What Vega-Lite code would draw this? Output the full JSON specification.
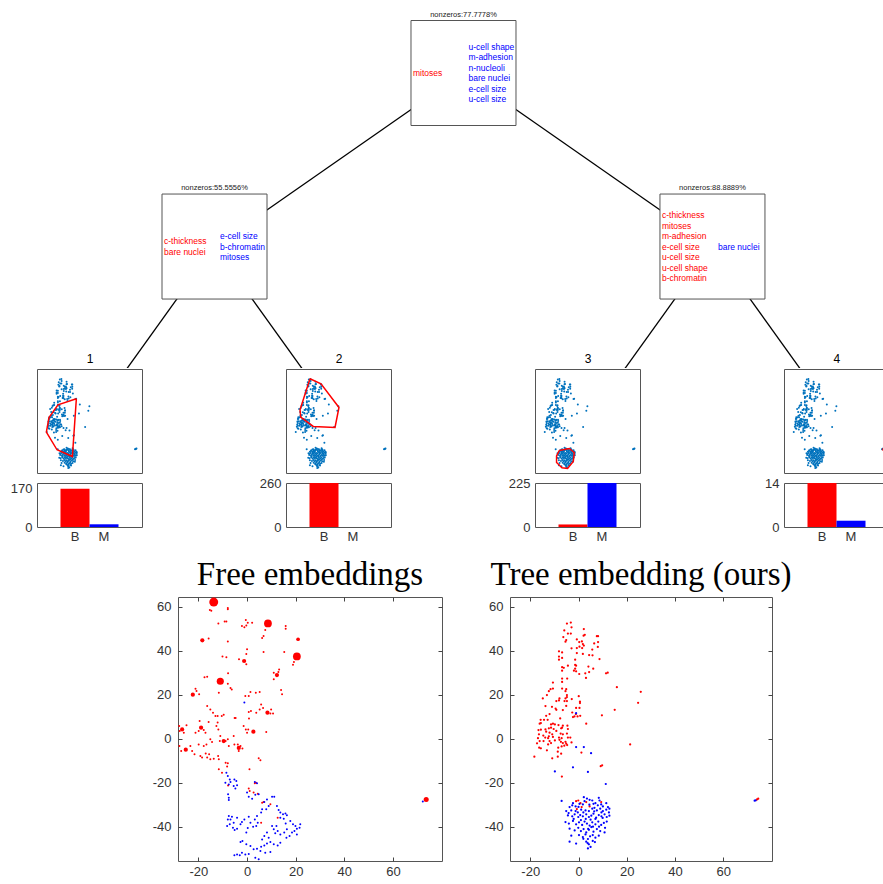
{
"$schema":"https://vega.github.io/schema/vega-lite/v6.json",
"padding":{"left":9,"top":0,"right":0,"bottom":0},
"config":{
 "font":"Liberation Sans",
 "view":{"stroke":"#555","strokeWidth":1},
 "axis":{"labelFont":"Liberation Sans","labelFontSize":13,"labelColor":"#333","grid":false,"ticks":false,"domain":false},
 "title":{"font":"Liberation Sans","fontWeight":"normal","color":"#000","fontSize":12}
},
"datasets":{
 "nodes":[
  {"id":"root","x":2.5,"depth":0,"label":"nonzeros:77.7778%","red":"mitoses","blue":"u-cell shape\nm-adhesion\nn-nucleoli\nbare nuclei\ne-cell size\nu-cell size"},
  {"id":"L","x":1.5,"depth":1,"label":"nonzeros:55.5556%","red":"c-thickness\nbare nuclei","blue":"e-cell size\nb-chromatin\nmitoses"},
  {"id":"R","x":3.5,"depth":1,"label":"nonzeros:88.8889%","red":"c-thickness\nmitoses\nm-adhesion\ne-cell size\nu-cell size\nu-cell shape\nb-chromatin","blue":"bare nuclei"}
 ],
 "leaves":[
  {"x":1,"depth":2,"name":"1"},{"x":2,"depth":2,"name":"2"},{"x":3,"depth":2,"name":"3"},{"x":4,"depth":2,"name":"4"}
 ],
 "edges":[
  {"x":2.5,"depth":0,"x2":1.5,"depth2":1},
  {"x":2.5,"depth":0,"x2":3.5,"depth2":1},
  {"x":1.5,"depth":1,"x2":1,"depth2":2},
  {"x":1.5,"depth":1,"x2":2,"depth2":2},
  {"x":3.5,"depth":1,"x2":3,"depth2":2},
  {"x":3.5,"depth":1,"x2":4,"depth2":2}
 ],
 "counts":[
  {"leaf":1,"cls":"B","n":170},{"leaf":1,"cls":"M","n":12},
  {"leaf":2,"cls":"B","n":260},{"leaf":2,"cls":"M","n":0},
  {"leaf":3,"cls":"B","n":13},{"leaf":3,"cls":"M","n":225},
  {"leaf":4,"cls":"B","n":14},{"leaf":4,"cls":"M","n":2}
 ],
 "hulls":[
  {"leaf":1,"i":0,"x":12.3,"y":30.0},{"leaf":1,"i":1,"x":-6.7,"y":23.1},{"leaf":1,"i":2,"x":-16.0,"y":8.4},{"leaf":1,"i":3,"x":-18.7,"y":-8.5},{"leaf":1,"i":4,"x":-7.7,"y":-28.8},{"leaf":1,"i":5,"x":8.2,"y":-36.6},{"leaf":1,"i":6,"x":12.3,"y":30.0},
  {"leaf":2,"i":0,"x":-3.6,"y":53.1},{"leaf":2,"i":1,"x":7.8,"y":47.3},{"leaf":2,"i":2,"x":26.4,"y":20.0},{"leaf":2,"i":3,"x":22.3,"y":-3.1},{"leaf":2,"i":4,"x":-0.2,"y":-1.9},{"leaf":2,"i":5,"x":-13.2,"y":8.8},{"leaf":2,"i":6,"x":-13.9,"y":17.3},{"leaf":2,"i":7,"x":-3.6,"y":53.1},
  {"leaf":3,"i":0,"x":-3.3,"y":-29.6},{"leaf":3,"i":1,"x":7.1,"y":-27.3},{"leaf":3,"i":2,"x":12.2,"y":-31.9},{"leaf":3,"i":3,"x":11.2,"y":-42.3},{"leaf":3,"i":4,"x":5.3,"y":-50.4},{"leaf":3,"i":5,"x":-0.5,"y":-49.6},{"leaf":3,"i":6,"x":-6.1,"y":-43.5},{"leaf":3,"i":7,"x":-6.1,"y":-35.8},{"leaf":3,"i":8,"x":-3.3,"y":-29.6},
  {"leaf":4,"i":0,"x":73.2,"y":-28.6},{"leaf":4,"i":1,"x":75.3,"y":-26.8},{"leaf":4,"i":2,"x":76.0,"y":-27.5},{"leaf":4,"i":3,"x":74.0,"y":-29.0},{"leaf":4,"i":4,"x":73.2,"y":-28.6}
 ],
 "tree":[
  {"x":-3.2,"y":52.8,"c":"B"},{"x":-4.8,"y":52.3,"c":"B"},{"x":-2.9,"y":50.6,"c":"B"},{"x":2.2,"y":49.8,"c":"B"},{"x":-5.9,"y":49.2,"c":"B"},{"x":-4.4,"y":47.8,"c":"B"},{"x":-3.2,"y":47.8,"c":"B"},{"x":2.6,"y":47.2,"c":"B"},{"x":2.1,"y":46.8,"c":"B"},{"x":7.6,"y":46.6,"c":"B"},{"x":8.1,"y":46.6,"c":"B"},{"x":-6.3,"y":46.2,"c":"B"},{"x":-0.7,"y":45.1,"c":"B"},{"x":-5.1,"y":44.8,"c":"B"},{"x":-5.4,"y":44.1,"c":"B"},{"x":1.4,"y":44.2,"c":"B"},{"x":0.3,"y":43.9,"c":"B"},{"x":1.8,"y":43.0,"c":"B"},{"x":8.1,"y":43.9,"c":"B"},{"x":6.5,"y":43.3,"c":"B"},{"x":2.2,"y":42.3,"c":"B"},{"x":0.4,"y":41.8,"c":"B"},{"x":-2.9,"y":41.1,"c":"B"},{"x":-0.7,"y":41.2,"c":"B"},{"x":1.5,"y":41.2,"c":"B"},{"x":8.0,"y":41.7,"c":"B"},{"x":5.7,"y":40.5,"c":"B"},{"x":-8.1,"y":39.7,"c":"B"},{"x":-0.7,"y":38.9,"c":"B"},{"x":1.8,"y":38.5,"c":"B"},{"x":-6.8,"y":39.2,"c":"B"},{"x":4.4,"y":38.0,"c":"B"},{"x":5.8,"y":37.9,"c":"B"},{"x":-8.1,"y":37.3,"c":"B"},{"x":-6.8,"y":36.7,"c":"B"},{"x":8.7,"y":36.2,"c":"B"},{"x":-8.1,"y":35.9,"c":"B"},{"x":-1.4,"y":35.9,"c":"B"},{"x":-4.4,"y":33.2,"c":"B"},{"x":-1.4,"y":33.5,"c":"B"},{"x":-1.0,"y":33.2,"c":"B"},{"x":-6.8,"y":32.5,"c":"B"},{"x":-6.1,"y":32.2,"c":"B"},{"x":4.1,"y":32.8,"c":"B"},{"x":6.1,"y":31.8,"c":"B"},{"x":-1.4,"y":31.8,"c":"B"},{"x":-1.9,"y":30.9,"c":"B"},{"x":-1.0,"y":30.6,"c":"B"},{"x":-6.8,"y":30.9,"c":"B"},{"x":2.8,"y":29.7,"c":"B"},{"x":4.4,"y":30.3,"c":"B"},{"x":11.4,"y":29.7,"c":"B"},{"x":12.1,"y":30.0,"c":"B"},{"x":0.3,"y":29.4,"c":"B"},{"x":3.1,"y":27.6,"c":"B"},{"x":-6.8,"y":27.3,"c":"B"},{"x":-4.7,"y":27.3,"c":"B"},{"x":-10.6,"y":25.5,"c":"B"},{"x":-6.8,"y":25.8,"c":"B"},{"x":-11.6,"y":22.5,"c":"B"},{"x":-12.3,"y":21.6,"c":"B"},{"x":-10.6,"y":22.8,"c":"B"},{"x":-6.8,"y":22.8,"c":"B"},{"x":-5.1,"y":22.5,"c":"B"},{"x":-5.4,"y":21.6,"c":"B"},{"x":-13.1,"y":19.8,"c":"B"},{"x":-4.8,"y":19.8,"c":"B"},{"x":-4.8,"y":18.9,"c":"B"},{"x":0.1,"y":19.3,"c":"B"},{"x":15.9,"y":23.4,"c":"B"},{"x":25.8,"y":21.3,"c":"B"},{"x":-14.8,"y":18.3,"c":"B"},{"x":-7.9,"y":18.3,"c":"B"},{"x":-8.1,"y":17.4,"c":"B"},{"x":-5.8,"y":17.1,"c":"B"},{"x":-4.8,"y":17.1,"c":"B"},{"x":-5.4,"y":18.3,"c":"B"},{"x":-2.8,"y":18.0,"c":"B"},{"x":0.6,"y":16.8,"c":"B"},{"x":0.6,"y":16.2,"c":"B"},{"x":-9.2,"y":17.1,"c":"B"},{"x":24.7,"y":16.3,"c":"B"},{"x":-11.0,"y":14.5,"c":"B"},{"x":-13.7,"y":14.8,"c":"B"},{"x":-5.1,"y":14.9,"c":"B"},{"x":-1.0,"y":14.0,"c":"B"},{"x":0.4,"y":14.0,"c":"B"},{"x":-9.2,"y":13.1,"c":"B"},{"x":-9.5,"y":13.7,"c":"B"},{"x":-6.5,"y":13.0,"c":"B"},{"x":15.0,"y":13.1,"c":"B"},{"x":-12.0,"y":11.2,"c":"B"},{"x":-2.6,"y":11.9,"c":"B"},{"x":-1.1,"y":11.2,"c":"B"},{"x":9.7,"y":10.6,"c":"B"},{"x":-2.3,"y":9.8,"c":"B"},{"x":-1.7,"y":10.1,"c":"B"},{"x":-0.4,"y":10.1,"c":"B"},{"x":0.7,"y":10.4,"c":"B"},{"x":-13.4,"y":10.4,"c":"B"},{"x":-15.7,"y":8.6,"c":"B"},{"x":-14.3,"y":8.6,"c":"B"},{"x":-12.8,"y":8.6,"c":"B"},{"x":-7.6,"y":9.2,"c":"B"},{"x":-11.4,"y":6.5,"c":"B"},{"x":-10.6,"y":6.8,"c":"B"},{"x":-9.8,"y":6.5,"c":"B"},{"x":-15.6,"y":7.1,"c":"B"},{"x":-16.1,"y":6.8,"c":"B"},{"x":-8.3,"y":6.2,"c":"B"},{"x":-6.5,"y":5.9,"c":"B"},{"x":-4.6,"y":5.9,"c":"B"},{"x":3.2,"y":6.8,"c":"B"},{"x":-12.3,"y":4.7,"c":"B"},{"x":-11.4,"y":5.0,"c":"B"},{"x":-10.3,"y":4.4,"c":"B"},{"x":-7.2,"y":4.7,"c":"B"},{"x":-6.8,"y":5.0,"c":"B"},{"x":-4.4,"y":4.4,"c":"B"},{"x":-16.6,"y":3.9,"c":"B"},{"x":-15.6,"y":4.1,"c":"B"},{"x":-13.7,"y":4.2,"c":"B"},{"x":-9.2,"y":3.5,"c":"B"},{"x":-13.4,"y":3.2,"c":"B"},{"x":-12.0,"y":2.7,"c":"B"},{"x":-10.9,"y":2.0,"c":"B"},{"x":-7.4,"y":2.3,"c":"B"},{"x":-6.5,"y":2.0,"c":"B"},{"x":-4.8,"y":2.3,"c":"B"},{"x":-16.4,"y":2.0,"c":"B"},{"x":-14.6,"y":1.4,"c":"B"},{"x":-13.8,"y":0.5,"c":"B"},{"x":-12.3,"y":1.1,"c":"B"},{"x":-12.6,"y":0.2,"c":"B"},{"x":-10.6,"y":0.8,"c":"B"},{"x":-8.1,"y":0.5,"c":"B"},{"x":-7.0,"y":0.2,"c":"B"},{"x":-4.4,"y":0.5,"c":"B"},{"x":-3.4,"y":0.5,"c":"B"},{"x":-16.8,"y":0.2,"c":"B"},{"x":-16.1,"y":-1.1,"c":"B"},{"x":-14.5,"y":-1.1,"c":"B"},{"x":-12.0,"y":-1.1,"c":"B"},{"x":-11.4,"y":-2.0,"c":"B"},{"x":-9.8,"y":-0.8,"c":"B"},{"x":-7.9,"y":-0.5,"c":"B"},{"x":-7.3,"y":-1.4,"c":"B"},{"x":-6.5,"y":-2.0,"c":"B"},{"x":-5.4,"y":-1.4,"c":"B"},{"x":-5.1,"y":-2.3,"c":"B"},{"x":-2.9,"y":-1.7,"c":"B"},{"x":-17.2,"y":-2.1,"c":"B"},{"x":-12.6,"y":-2.6,"c":"B"},{"x":21.4,"y":-2.6,"c":"B"},{"x":-16.3,"y":-4.1,"c":"B"},{"x":-15.6,"y":-4.4,"c":"B"},{"x":-8.4,"y":-4.1,"c":"B"},{"x":-7.0,"y":-3.5,"c":"B"},{"x":-5.9,"y":-3.2,"c":"B"},{"x":-4.7,"y":-2.9,"c":"B"},{"x":-13.1,"y":-5.3,"c":"B"},{"x":-8.6,"y":-5.9,"c":"B"},{"x":1.2,"y":-6.3,"c":"B"},{"x":-18.3,"y":-8.2,"c":"B"},{"x":-10.9,"y":-8.9,"c":"B"},{"x":-8.6,"y":-8.2,"c":"B"},{"x":-7.2,"y":-6.8,"c":"B"},{"x":9.8,"y":-12.1,"c":"B"},{"x":9.2,"y":-12.5,"c":"B"},{"x":-6.9,"y":-17.2,"c":"B"},
  {"x":-1.0,"y":-28.4,"c":"B"},{"x":-0.1,"y":-28.1,"c":"B"},{"x":0.8,"y":-29.3,"c":"B"},{"x":3.2,"y":-28.8,"c":"B"},{"x":4.6,"y":-30.8,"c":"B"},{"x":1.3,"y":-31.1,"c":"B"},{"x":-0.7,"y":-32.0,"c":"B"},{"x":9.4,"y":-28.8,"c":"B"},
  {"x":-1.0,"y":11.6,"c":"M"},{"x":-1.0,"y":-3.8,"c":"M"},{"x":2.2,"y":-3.8,"c":"M"},{"x":5.2,"y":-6.6,"c":"M"},{"x":-2.3,"y":-13.0,"c":"M"},{"x":-9.8,"y":-14.9,"c":"M"},{"x":3.9,"y":-15.1,"c":"M"},{"x":11.3,"y":-20.6,"c":"M"},{"x":-7.0,"y":-28.3,"c":"M"},
  {"x":2.2,"y":-26.6,"c":"M"},{"x":3.5,"y":-27.2,"c":"M"},{"x":4.6,"y":-27.8,"c":"M"},{"x":5.7,"y":-28.1,"c":"M"},{"x":8.4,"y":-26.9,"c":"M"},{"x":8.7,"y":-28.1,"c":"M"},{"x":2.5,"y":-28.4,"c":"M"},{"x":-2.3,"y":-29.3,"c":"M"},
  {"x":0.4,"y":-29.6,"c":"M"},{"x":1.8,"y":-29.9,"c":"M"},{"x":6.2,"y":-29.6,"c":"M"},{"x":7.0,"y":-29.3,"c":"M"},{"x":8.0,"y":-30.3,"c":"M"},{"x":9.4,"y":-29.9,"c":"M"},{"x":10.1,"y":-30.8,"c":"M"},{"x":11.5,"y":-29.3,"c":"M"},{"x":12.2,"y":-31.1,"c":"M"},{"x":-1.2,"y":-30.8,"c":"M"},{"x":-2.6,"y":-30.3,"c":"M"},{"x":-3.7,"y":-31.1,"c":"M"},
  {"x":-5.1,"y":-32.9,"c":"M"},{"x":-4.1,"y":-33.8,"c":"M"},{"x":-3.0,"y":-32.6,"c":"M"},{"x":-1.2,"y":-32.9,"c":"M"},{"x":-0.3,"y":-33.5,"c":"M"},{"x":1.1,"y":-32.3,"c":"M"},{"x":2.9,"y":-32.6,"c":"M"},{"x":4.3,"y":-32.9,"c":"M"},{"x":5.7,"y":-31.8,"c":"M"},{"x":6.6,"y":-31.4,"c":"M"},{"x":7.6,"y":-32.6,"c":"M"},{"x":9.0,"y":-31.8,"c":"M"},{"x":10.1,"y":-32.9,"c":"M"},{"x":11.5,"y":-32.3,"c":"M"},{"x":12.6,"y":-33.5,"c":"M"},{"x":12.8,"y":-31.8,"c":"M"},
  {"x":-4.4,"y":-34.9,"c":"M"},{"x":-2.6,"y":-35.3,"c":"M"},{"x":-1.6,"y":-34.4,"c":"M"},{"x":-0.1,"y":-35.6,"c":"M"},{"x":0.7,"y":-34.7,"c":"M"},{"x":1.8,"y":-35.3,"c":"M"},{"x":3.2,"y":-34.4,"c":"M"},{"x":4.3,"y":-35.6,"c":"M"},{"x":5.3,"y":-35.0,"c":"M"},{"x":6.2,"y":-34.1,"c":"M"},{"x":7.3,"y":-35.9,"c":"M"},{"x":8.4,"y":-34.7,"c":"M"},{"x":9.5,"y":-35.3,"c":"M"},{"x":10.8,"y":-34.4,"c":"M"},{"x":11.7,"y":-35.6,"c":"M"},{"x":12.8,"y":-35.0,"c":"M"},
  {"x":-5.4,"y":-37.9,"c":"M"},{"x":-4.0,"y":-38.6,"c":"M"},{"x":-2.3,"y":-37.4,"c":"M"},{"x":-1.0,"y":-38.9,"c":"M"},{"x":0.2,"y":-38.0,"c":"M"},{"x":1.5,"y":-39.2,"c":"M"},{"x":2.5,"y":-37.7,"c":"M"},{"x":3.5,"y":-38.6,"c":"M"},{"x":4.6,"y":-39.5,"c":"M"},{"x":5.7,"y":-38.0,"c":"M"},{"x":7.0,"y":-38.9,"c":"M"},{"x":8.2,"y":-37.7,"c":"M"},{"x":9.4,"y":-39.2,"c":"M"},{"x":10.5,"y":-38.3,"c":"M"},{"x":11.7,"y":-37.7,"c":"M"},
  {"x":-3.7,"y":-40.9,"c":"M"},{"x":-1.6,"y":-41.7,"c":"M"},{"x":-0.1,"y":-40.5,"c":"M"},{"x":1.0,"y":-42.0,"c":"M"},{"x":2.1,"y":-41.1,"c":"M"},{"x":3.2,"y":-42.6,"c":"M"},{"x":4.3,"y":-41.4,"c":"M"},{"x":5.3,"y":-40.2,"c":"M"},{"x":6.2,"y":-42.3,"c":"M"},{"x":7.6,"y":-41.1,"c":"M"},{"x":9.0,"y":-42.0,"c":"M"},{"x":10.8,"y":-42.6,"c":"M"},
  {"x":-3.0,"y":-44.1,"c":"M"},{"x":0.2,"y":-43.8,"c":"M"},{"x":1.8,"y":-44.7,"c":"M"},{"x":2.9,"y":-43.5,"c":"M"},{"x":3.9,"y":-45.6,"c":"M"},{"x":4.8,"y":-44.4,"c":"M"},{"x":5.9,"y":-43.8,"c":"M"},{"x":7.0,"y":-45.0,"c":"M"},{"x":8.4,"y":-44.1,"c":"M"},
  {"x":-3.7,"y":-46.8,"c":"M"},{"x":-1.0,"y":-47.7,"c":"M"},{"x":3.2,"y":-46.8,"c":"M"},{"x":4.3,"y":-48.0,"c":"M"},{"x":5.0,"y":-49.2,"c":"M"},{"x":3.9,"y":-49.9,"c":"M"},{"x":5.9,"y":-46.5,"c":"M"},
  {"x":3.0,"y":-36.5,"c":"M"},{"x":5.0,"y":-36.8,"c":"M"},{"x":7.0,"y":-36.5,"c":"M"},{"x":1.0,"y":-37.0,"c":"M"},{"x":6.0,"y":-40.0,"c":"M"},{"x":4.0,"y":-41.0,"c":"M"},{"x":8.5,"y":-40.0,"c":"M"},{"x":10.0,"y":-36.0,"c":"M"},{"x":2.0,"y":-33.5,"c":"M"},{"x":6.5,"y":-33.0,"c":"M"},{"x":4.5,"y":-30.0,"c":"M"},{"x":9.5,"y":-33.5,"c":"M"},{"x":0.0,"y":-31.0,"c":"M"},{"x":-2.0,"y":-36.5,"c":"M"},{"x":11.0,"y":-40.5,"c":"M"},{"x":3.8,"y":-47.5,"c":"M"},{"x":2.0,"y":-45.5,"c":"M"},{"x":6.8,"y":-47.0,"c":"M"},
  {"x":73.0,"y":-28.2,"c":"M"},{"x":73.5,"y":-28.0,"c":"M"},{"x":74.5,"y":-27.3,"c":"B"},{"x":74.0,"y":-27.6,"c":"B"}
 ],
 "free":[
  {"x":-15.3,"y":58.5,"c":"B","n":1},{"x":-14.7,"y":58.2,"c":"B","n":1},{"x":-7.9,"y":59.4,"c":"B","n":1},{"x":-7.9,"y":58.8,"c":"B","n":1},{"x":-11.8,"y":52.4,"c":"B","n":1},{"x":-9.2,"y":53.3,"c":"B","n":1},{"x":-8.5,"y":53.3,"c":"B","n":1},{"x":-2.1,"y":51.2,"c":"B","n":1},{"x":-1.1,"y":50.6,"c":"B","n":1},{"x":-0.3,"y":51.5,"c":"B","n":1},{"x":-0.5,"y":53.9,"c":"B","n":1},{"x":0.3,"y":52.7,"c":"B","n":1},{"x":2.1,"y":52.7,"c":"B","n":1},{"x":7.5,"y":49.4,"c":"B","n":1},{"x":6.8,"y":46.7,"c":"B","n":1},{"x":6.2,"y":45.8,"c":"B","n":1},{"x":15.9,"y":51.2,"c":"B","n":1},{"x":15.9,"y":50.0,"c":"B","n":1},{"x":-15.8,"y":45.5,"c":"B","n":1},{"x":-7.9,"y":44.2,"c":"B","n":1},{"x":-10.1,"y":37.3,"c":"B","n":1},{"x":-8.5,"y":37.0,"c":"B","n":1},{"x":0.0,"y":40.6,"c":"B","n":1},{"x":-0.3,"y":38.5,"c":"B","n":1},{"x":6.8,"y":39.4,"c":"B","n":1},{"x":15.3,"y":39.4,"c":"B","n":1},{"x":-3.3,"y":36.1,"c":"B","n":1},{"x":-0.3,"y":33.8,"c":"B","n":1},{"x":18.9,"y":33.6,"c":"B","n":1},{"x":19.3,"y":34.8,"c":"B","n":1},{"x":-7.8,"y":29.7,"c":"B","n":1},{"x":11.0,"y":30.0,"c":"B","n":1},{"x":13.2,"y":31.5,"c":"B","n":1},{"x":12.9,"y":30.3,"c":"B","n":1},{"x":11.0,"y":27.0,"c":"B","n":1},{"x":-17.5,"y":27.9,"c":"B","n":1},{"x":-16.4,"y":28.2,"c":"B","n":1},{"x":-7.9,"y":25.0,"c":"B","n":1},{"x":-6.8,"y":23.0,"c":"B","n":1},{"x":-6.3,"y":22.4,"c":"B","n":1},{"x":-11.6,"y":20.9,"c":"B","n":1},{"x":-21.2,"y":22.7,"c":"B","n":1},{"x":-20.8,"y":21.7,"c":"B","n":1},{"x":-19.7,"y":20.2,"c":"B","n":1},{"x":14.0,"y":22.1,"c":"B","n":1},{"x":14.4,"y":20.2,"c":"B","n":1},{"x":1.4,"y":21.2,"c":"B","n":1},{"x":-0.7,"y":19.4,"c":"B","n":1},{"x":0.7,"y":19.4,"c":"B","n":1},{"x":3.6,"y":20.9,"c":"B","n":1},{"x":5.2,"y":21.2,"c":"B","n":1},{"x":5.8,"y":15.5,"c":"B","n":1},{"x":6.6,"y":13.9,"c":"B","n":1},{"x":5.2,"y":13.3,"c":"B","n":1},{"x":3.8,"y":11.8,"c":"B","n":1},{"x":0.7,"y":12.1,"c":"B","n":1},{"x":1.6,"y":12.6,"c":"B","n":1},{"x":9.9,"y":13.3,"c":"B","n":1},{"x":9.6,"y":11.5,"c":"B","n":1},{"x":10.7,"y":11.5,"c":"B","n":1},{"x":-16.4,"y":14.8,"c":"B","n":1},{"x":-15.1,"y":13.3,"c":"B","n":1},{"x":-14.0,"y":11.8,"c":"B","n":1},{"x":-13.0,"y":10.3,"c":"B","n":1},{"x":-12.1,"y":10.3,"c":"B","n":1},{"x":-10.4,"y":10.3,"c":"B","n":1},{"x":-9.6,"y":10.9,"c":"B","n":1},{"x":-5.1,"y":9.4,"c":"B","n":1},{"x":-4.7,"y":9.4,"c":"B","n":1},{"x":0.8,"y":9.2,"c":"B","n":1},{"x":-19.5,"y":8.0,"c":"B","n":1},{"x":-15.8,"y":7.6,"c":"B","n":1},{"x":-12.1,"y":7.3,"c":"B","n":1},{"x":-12.6,"y":5.8,"c":"B","n":1},{"x":-11.8,"y":4.2,"c":"B","n":1},{"x":-1.4,"y":5.8,"c":"B","n":1},{"x":-0.5,"y":4.2,"c":"B","n":1},{"x":0.5,"y":4.2,"c":"B","n":1},{"x":0.0,"y":2.7,"c":"B","n":1},{"x":7.9,"y":3.0,"c":"B","n":1},{"x":-27.9,"y":5.8,"c":"B","n":1},{"x":-27.7,"y":3.5,"c":"B","n":1},{"x":-24.9,"y":6.1,"c":"B","n":1},{"x":-26.0,"y":2.7,"c":"B","n":1},{"x":-21.2,"y":2.7,"c":"B","n":1},{"x":-19.9,"y":3.5,"c":"B","n":1},{"x":-17.8,"y":3.9,"c":"B","n":1},{"x":-17.1,"y":2.7,"c":"B","n":1},{"x":-11.0,"y":1.2,"c":"B","n":1},{"x":-11.2,"y":-1.1,"c":"B","n":1},{"x":-8.8,"y":-1.1,"c":"B","n":1},{"x":-7.9,"y":-0.3,"c":"B","n":1},{"x":-7.5,"y":-3.3,"c":"B","n":1},{"x":-5.5,"y":1.2,"c":"B","n":1},{"x":-5.2,"y":-2.6,"c":"B","n":1},{"x":-3.8,"y":-2.6,"c":"B","n":1},{"x":-2.7,"y":-3.3,"c":"B","n":1},{"x":-1.9,"y":-4.5,"c":"B","n":1},{"x":-3.4,"y":-5.6,"c":"B","n":1},{"x":-15.1,"y":-0.3,"c":"B","n":1},{"x":-14.4,"y":-1.5,"c":"B","n":1},{"x":-16.7,"y":-2.6,"c":"B","n":1},{"x":-17.8,"y":-3.3,"c":"B","n":1},{"x":-19.9,"y":-2.6,"c":"B","n":1},{"x":-23.3,"y":-3.3,"c":"B","n":1},{"x":-22.6,"y":-5.6,"c":"B","n":1},{"x":-21.6,"y":-7.1,"c":"B","n":1},{"x":-19.2,"y":-7.9,"c":"B","n":1},{"x":-18.5,"y":-8.6,"c":"B","n":1},{"x":-16.4,"y":-8.6,"c":"B","n":1},{"x":-15.1,"y":-9.4,"c":"B","n":1},{"x":-13.7,"y":-9.1,"c":"B","n":1},{"x":-17.0,"y":-6.7,"c":"B","n":1},{"x":-15.6,"y":-7.1,"c":"B","n":1},{"x":-11.9,"y":-7.9,"c":"B","n":1},{"x":-11.6,"y":-9.4,"c":"B","n":1},{"x":-27.8,"y":-3.3,"c":"B","n":1},{"x":-27.1,"y":-5.6,"c":"B","n":1},{"x":4.8,"y":-8.9,"c":"B","n":1},{"x":5.5,"y":-9.8,"c":"B","n":1},{"x":-8.8,"y":-10.9,"c":"B","n":1},{"x":-7.9,"y":-11.2,"c":"B","n":1},{"x":-8.2,"y":-12.7,"c":"B","n":1},{"x":-11.6,"y":-13.9,"c":"B","n":1},{"x":1.0,"y":-13.9,"c":"B","n":1},{"x":-10.3,"y":-15.5,"c":"B","n":1},{"x":3.7,"y":-20.0,"c":"B","n":1},{"x":3.2,"y":-20.3,"c":"B","n":1},{"x":0.7,"y":-22.7,"c":"B","n":1},{"x":1.1,"y":-23.8,"c":"B","n":1},{"x":2.7,"y":-24.5,"c":"B","n":1},{"x":4.4,"y":-25.0,"c":"B","n":1},{"x":6.2,"y":-29.1,"c":"B","n":1},{"x":6.8,"y":-28.8,"c":"B","n":1},{"x":9.6,"y":-29.8,"c":"B","n":1},{"x":12.6,"y":-35.9,"c":"B","n":1},{"x":5.8,"y":-38.2,"c":"B","n":1},{"x":-7.8,"y":-21.3,"c":"B","n":1},
  {"x":-13.7,"y":62.1,"c":"B","n":40},{"x":8.6,"y":52.4,"c":"B","n":30},{"x":20.5,"y":37.4,"c":"B","n":30},{"x":-11.0,"y":26.1,"c":"B","n":25},{"x":-18.4,"y":44.7,"c":"B","n":8},{"x":-22.3,"y":20.0,"c":"B","n":8},{"x":-1.2,"y":35.3,"c":"B","n":8},{"x":12.3,"y":28.9,"c":"B","n":8},{"x":8.4,"y":11.8,"c":"B","n":8},{"x":2.6,"y":3.2,"c":"B","n":8},{"x":-18.9,"y":5.0,"c":"B","n":8},{"x":-26.7,"y":4.2,"c":"B","n":8},{"x":-25.2,"y":-5.0,"c":"B","n":8},{"x":-9.6,"y":-1.1,"c":"B","n":8},{"x":-3.4,"y":-4.2,"c":"B","n":8},{"x":21.0,"y":45.2,"c":"B","n":6},
  {"x":-1.1,"y":16.4,"c":"M","n":1},
  {"x":-8.5,"y":-15.5,"c":"M","n":1},{"x":-7.9,"y":-17.0,"c":"M","n":1},{"x":-7.1,"y":-18.5,"c":"M","n":1},{"x":-6.8,"y":-19.7,"c":"M","n":1},{"x":-7.5,"y":-20.8,"c":"M","n":1},{"x":-8.9,"y":-20.0,"c":"M","n":1},{"x":-5.2,"y":-18.5,"c":"M","n":1},{"x":-4.4,"y":-19.2,"c":"M","n":1},{"x":-4.1,"y":-21.2,"c":"M","n":1},{"x":-4.8,"y":-22.7,"c":"M","n":1},{"x":-5.5,"y":-21.5,"c":"M","n":1},{"x":-7.8,"y":-25.3,"c":"M","n":1},{"x":-7.5,"y":-26.8,"c":"M","n":1},{"x":-7.5,"y":-27.9,"c":"M","n":1},{"x":3.2,"y":-19.7,"c":"M","n":1},{"x":4.1,"y":-20.3,"c":"M","n":1},{"x":0.0,"y":-24.5,"c":"M","n":1},{"x":0.7,"y":-26.4,"c":"M","n":1},{"x":2.1,"y":-27.3,"c":"M","n":1},{"x":3.4,"y":-25.5,"c":"M","n":1},{"x":4.8,"y":-25.3,"c":"M","n":1},{"x":7.1,"y":-28.8,"c":"M","n":1},{"x":8.2,"y":-27.6,"c":"M","n":1},{"x":10.3,"y":-26.4,"c":"M","n":1},{"x":11.2,"y":-26.4,"c":"M","n":1},{"x":8.9,"y":-30.6,"c":"M","n":1},{"x":7.9,"y":-32.1,"c":"M","n":1},{"x":6.2,"y":-32.1,"c":"M","n":1},{"x":5.8,"y":-33.6,"c":"M","n":1},{"x":12.3,"y":-30.6,"c":"M","n":1},{"x":13.0,"y":-32.4,"c":"M","n":1},{"x":13.7,"y":-33.6,"c":"M","n":1},{"x":14.8,"y":-34.4,"c":"M","n":1},{"x":15.8,"y":-34.0,"c":"M","n":1},{"x":16.4,"y":-34.8,"c":"M","n":1},{"x":15.1,"y":-36.4,"c":"M","n":1},{"x":13.7,"y":-35.9,"c":"M","n":1},{"x":4.1,"y":-35.2,"c":"M","n":1},{"x":3.2,"y":-36.7,"c":"M","n":1},{"x":4.4,"y":-38.2,"c":"M","n":1},{"x":3.8,"y":-39.7,"c":"M","n":1},{"x":2.5,"y":-40.0,"c":"M","n":1},{"x":1.4,"y":-38.2,"c":"M","n":1},{"x":0.7,"y":-35.5,"c":"M","n":1},{"x":-1.1,"y":-36.7,"c":"M","n":1},{"x":-2.1,"y":-37.9,"c":"M","n":1},{"x":-2.7,"y":-38.9,"c":"M","n":1},{"x":0.3,"y":-40.6,"c":"M","n":1},{"x":-0.3,"y":-42.7,"c":"M","n":1},{"x":-7.5,"y":-35.2,"c":"M","n":1},{"x":-6.8,"y":-36.7,"c":"M","n":1},{"x":-5.5,"y":-38.2,"c":"M","n":1},{"x":-7.1,"y":-38.9,"c":"M","n":1},{"x":-8.2,"y":-39.7,"c":"M","n":1},{"x":-5.8,"y":-40.5,"c":"M","n":1},{"x":-5.1,"y":-41.5,"c":"M","n":1},{"x":-4.1,"y":-40.9,"c":"M","n":1},{"x":-7.9,"y":-36.7,"c":"M","n":1},{"x":-6.2,"y":-35.5,"c":"M","n":1},{"x":-4.1,"y":-35.9,"c":"M","n":1},{"x":10.3,"y":-39.7,"c":"M","n":1},{"x":11.0,"y":-41.2,"c":"M","n":1},{"x":12.1,"y":-39.7,"c":"M","n":1},{"x":12.6,"y":-42.0,"c":"M","n":1},{"x":13.7,"y":-43.5,"c":"M","n":1},{"x":11.6,"y":-43.0,"c":"M","n":1},{"x":17.8,"y":-37.4,"c":"M","n":1},{"x":18.9,"y":-38.9,"c":"M","n":1},{"x":19.9,"y":-39.7,"c":"M","n":1},{"x":20.5,"y":-40.9,"c":"M","n":1},{"x":19.5,"y":-42.0,"c":"M","n":1},{"x":18.5,"y":-42.7,"c":"M","n":1},{"x":17.5,"y":-44.2,"c":"M","n":1},{"x":20.5,"y":-43.5,"c":"M","n":1},{"x":21.6,"y":-40.5,"c":"M","n":1},{"x":21.9,"y":-38.9,"c":"M","n":1},{"x":15.9,"y":-38.5,"c":"M","n":1},{"x":16.4,"y":-41.2,"c":"M","n":1},{"x":15.3,"y":-42.7,"c":"M","n":1},{"x":16.2,"y":-45.0,"c":"M","n":1},{"x":-2.7,"y":-47.0,"c":"M","n":1},{"x":-1.9,"y":-46.5,"c":"M","n":1},{"x":-0.3,"y":-48.0,"c":"M","n":1},{"x":1.4,"y":-48.8,"c":"M","n":1},{"x":2.7,"y":-50.3,"c":"M","n":1},{"x":4.1,"y":-50.0,"c":"M","n":1},{"x":5.8,"y":-49.1,"c":"M","n":1},{"x":7.1,"y":-48.5,"c":"M","n":1},{"x":8.2,"y":-47.6,"c":"M","n":1},{"x":9.6,"y":-47.0,"c":"M","n":1},{"x":11.0,"y":-48.0,"c":"M","n":1},{"x":12.6,"y":-48.5,"c":"M","n":1},{"x":13.7,"y":-47.3,"c":"M","n":1},{"x":6.2,"y":-45.8,"c":"M","n":1},{"x":5.5,"y":-51.1,"c":"M","n":1},{"x":7.5,"y":-51.8,"c":"M","n":1},{"x":9.6,"y":-51.5,"c":"M","n":1},{"x":-4.1,"y":-52.6,"c":"M","n":1},{"x":-3.0,"y":-53.0,"c":"M","n":1},{"x":-2.1,"y":-51.8,"c":"M","n":1},{"x":-0.7,"y":-52.7,"c":"M","n":1},{"x":0.7,"y":-52.4,"c":"M","n":1},{"x":-5.2,"y":-53.0,"c":"M","n":1},{"x":4.8,"y":-54.8,"c":"M","n":1},{"x":3.4,"y":-54.1,"c":"M","n":1},{"x":8.2,"y":-42.7,"c":"M","n":1},{"x":7.1,"y":-44.2,"c":"M","n":1},{"x":8.9,"y":-45.0,"c":"M","n":1},{"x":72.3,"y":-28.6,"c":"M","n":1},
  {"x":73.7,"y":-27.6,"c":"B","n":12}
 ]
},
"vconcat":[
 {"vconcat":[
  {"width":846,"height":367,"view":{"stroke":"transparent"},
   "encoding":{
    "x":{"field":"x","type":"quantitative","scale":{"domain":[0.787,4.185],"nice":false,"zero":false},"axis":null},
    "y":{"field":"depth","type":"quantitative","scale":{"domain":[-0.415,1.7],"nice":false,"zero":false,"reverse":true},"axis":null}
   },
   "layer":[
    {"data":{"name":"edges"},"mark":{"type":"rule","color":"#000","strokeWidth":1.3,"clip":true},"encoding":{"x2":{"field":"x2"},"y2":{"field":"depth2"}}},
    {"data":{"name":"nodes"},"mark":{"type":"square","size":11025,"filled":true,"fill":"#fff","stroke":"#555","strokeWidth":1,"opacity":1}},
    {"data":{"name":"nodes"},"mark":{"type":"text","fontSize":7.5,"dy":-58.5,"color":"#222","baseline":"middle"},"encoding":{"text":{"field":"label"}}},
    {"data":{"name":"leaves"},"mark":{"type":"text","fontSize":12,"dy":-61,"color":"#000","baseline":"middle"},"encoding":{"text":{"field":"name"}}},
    {"data":{"name":"nodes"},"transform":[{"filter":"datum.id=='root'"}],"mark":{"type":"text","fontSize":8.5,"lineBreak":"\n","lineHeight":10.5,"align":"left","baseline":"middle","dx":-50.5,"dy":0,"color":"#ff0000"},"encoding":{"text":{"field":"red"}}},
    {"data":{"name":"nodes"},"transform":[{"filter":"datum.id=='L'"}],"mark":{"type":"text","fontSize":8.5,"lineBreak":"\n","lineHeight":10.5,"align":"left","baseline":"middle","dx":-50.5,"dy":-5.25,"color":"#ff0000"},"encoding":{"text":{"field":"red"}}},
    {"data":{"name":"nodes"},"transform":[{"filter":"datum.id=='R'"}],"mark":{"type":"text","fontSize":8.5,"lineBreak":"\n","lineHeight":10.5,"align":"left","baseline":"middle","dx":-50.5,"dy":-31.5,"color":"#ff0000"},"encoding":{"text":{"field":"red"}}},
    {"data":{"name":"nodes"},"transform":[{"filter":"datum.id=='root'"}],"mark":{"type":"text","fontSize":8.5,"lineBreak":"\n","lineHeight":10.5,"align":"left","baseline":"middle","dx":5,"dy":-26.25,"color":"#0000ff"},"encoding":{"text":{"field":"blue"}}},
    {"data":{"name":"nodes"},"transform":[{"filter":"datum.id=='L'"}],"mark":{"type":"text","fontSize":8.5,"lineBreak":"\n","lineHeight":10.5,"align":"left","baseline":"middle","dx":5.5,"dy":-10.5,"color":"#0000ff"},"encoding":{"text":{"field":"blue"}}},
    {"data":{"name":"nodes"},"transform":[{"filter":"datum.id=='R'"}],"mark":{"type":"text","fontSize":8.5,"lineBreak":"\n","lineHeight":10.5,"align":"left","baseline":"middle","dx":5.5,"dy":0,"color":"#0000ff"},"encoding":{"text":{"field":"blue"}}}
   ]
  },
  {"concat":[
    {"width":105,"height":104,
     "encoding":{"x":{"field":"x","type":"quantitative","scale":{"domain":[-28.4,80.2],"nice":false,"zero":false},"axis":null},"y":{"field":"y","type":"quantitative","scale":{"domain":[-55.6,64.4],"nice":false,"zero":false},"axis":null}},
     "layer":[
      {"data":{"name":"tree"},"mark":{"type":"circle","size":4,"color":"#0072BD","opacity":1}},
      {"data":{"name":"hulls"},"transform":[{"filter":"datum.leaf==1"}],"mark":{"type":"line","color":"#ff0000","strokeWidth":1.5},"encoding":{"order":{"field":"i","type":"quantitative"}}}
     ]},
    {"width":105,"height":104,
     "encoding":{"x":{"field":"x","type":"quantitative","scale":{"domain":[-28.4,80.2],"nice":false,"zero":false},"axis":null},"y":{"field":"y","type":"quantitative","scale":{"domain":[-55.6,64.4],"nice":false,"zero":false},"axis":null}},
     "layer":[
      {"data":{"name":"tree"},"mark":{"type":"circle","size":4,"color":"#0072BD","opacity":1}},
      {"data":{"name":"hulls"},"transform":[{"filter":"datum.leaf==2"}],"mark":{"type":"line","color":"#ff0000","strokeWidth":1.5},"encoding":{"order":{"field":"i","type":"quantitative"}}}
     ]},
    {"width":105,"height":104,
     "encoding":{"x":{"field":"x","type":"quantitative","scale":{"domain":[-28.4,80.2],"nice":false,"zero":false},"axis":null},"y":{"field":"y","type":"quantitative","scale":{"domain":[-55.6,64.4],"nice":false,"zero":false},"axis":null}},
     "layer":[
      {"data":{"name":"tree"},"mark":{"type":"circle","size":4,"color":"#0072BD","opacity":1}},
      {"data":{"name":"hulls"},"transform":[{"filter":"datum.leaf==3"}],"mark":{"type":"line","color":"#ff0000","strokeWidth":1.5},"encoding":{"order":{"field":"i","type":"quantitative"}}}
     ]},
    {"width":99,"height":104,
     "encoding":{"x":{"field":"x","type":"quantitative","scale":{"domain":[-28.4,80.2],"range":[0,105],"nice":false,"zero":false},"axis":null},"y":{"field":"y","type":"quantitative","scale":{"domain":[-55.6,64.4],"nice":false,"zero":false},"axis":null}},
     "layer":[
      {"data":{"name":"tree"},"mark":{"type":"circle","size":4,"color":"#0072BD","opacity":1,"clip":true}},
      {"data":{"name":"hulls"},"transform":[{"filter":"datum.leaf==4"}],"mark":{"type":"line","color":"#ff0000","strokeWidth":1.5,"clip":true},"encoding":{"order":{"field":"i","type":"quantitative"}}}
     ]},
    {"width":105,"height":44,"data":{"name":"counts"},"transform":[{"filter":"datum.leaf==1"}],"mark":{"type":"bar"},
     "encoding":{
      "x":{"field":"cls","type":"nominal","title":null,"scale":{"domain":["B","M"],"paddingInner":0,"paddingOuter":0.81},"axis":{"labelAngle":0,"labelPadding":3}},
      "y":{"field":"n","type":"quantitative","title":null,"scale":{"domain":[0,195],"nice":false},"axis":{"values":[0,170],"labelPadding":5}},
      "color":{"field":"cls","type":"nominal","scale":{"domain":["B","M"],"range":["#ff0000","#0000ff"]},"legend":null}}},
    {"width":105,"height":44,"data":{"name":"counts"},"transform":[{"filter":"datum.leaf==2"}],"mark":{"type":"bar"},
     "encoding":{
      "x":{"field":"cls","type":"nominal","title":null,"scale":{"domain":["B","M"],"paddingInner":0,"paddingOuter":0.81},"axis":{"labelAngle":0,"labelPadding":3}},
      "y":{"field":"n","type":"quantitative","title":null,"scale":{"domain":[0,260],"nice":false},"axis":{"values":[0,260],"labelPadding":5}},
      "color":{"field":"cls","type":"nominal","scale":{"domain":["B","M"],"range":["#ff0000","#0000ff"]},"legend":null}}},
    {"width":105,"height":44,"data":{"name":"counts"},"transform":[{"filter":"datum.leaf==3"}],"mark":{"type":"bar"},
     "encoding":{
      "x":{"field":"cls","type":"nominal","title":null,"scale":{"domain":["B","M"],"paddingInner":0,"paddingOuter":0.81},"axis":{"labelAngle":0,"labelPadding":3}},
      "y":{"field":"n","type":"quantitative","title":null,"scale":{"domain":[0,225],"nice":false},"axis":{"values":[0,225],"labelPadding":5}},
      "color":{"field":"cls","type":"nominal","scale":{"domain":["B","M"],"range":["#ff0000","#0000ff"]},"legend":null}}},
    {"width":99,"height":44,"data":{"name":"counts"},"transform":[{"filter":"datum.leaf==4"}],"mark":{"type":"bar"},
     "encoding":{
      "x":{"field":"cls","type":"nominal","title":null,"scale":{"domain":["B","M"],"range":[0,105],"paddingInner":0,"paddingOuter":0.81},"axis":{"labelAngle":0,"labelPadding":3}},
      "y":{"field":"n","type":"quantitative","title":null,"scale":{"domain":[0,14],"nice":false},"axis":{"values":[0,14],"labelPadding":5}},
      "color":{"field":"cls","type":"nominal","scale":{"domain":["B","M"],"range":["#ff0000","#0000ff"]},"legend":null}}}
  ],"columns":4,"spacing":{"row":10,"column":144},"bounds":"flush"}
 ],"spacing":-5},
 {"hconcat":[
  {"width":72.5,"height":264,"data":{"values":[{"a":1}]},"mark":{"type":"point","opacity":0},"view":{"stroke":null}},
  {"width":264,"height":264,"title":{"text":"Free embeddings","font":"Liberation Serif","fontSize":33,"offset":-21,"baseline":"alphabetic"},
   "data":{"name":"free"},
   "layer":[
    {"mark":{"type":"circle","opacity":1},
     "encoding":{
      "x":{"field":"x","type":"quantitative","title":null,"scale":{"domain":[-28.4,80.2],"nice":false,"zero":false},"axis":{"values":[-20,0,20,40,60],"ticks":true,"tickSize":-4,"tickColor":"#444","labelPadding":8,"labelExpr":"datum.value + ''"}},
      "y":{"field":"y","type":"quantitative","title":null,"scale":{"domain":[-55.6,64.4],"nice":false,"zero":false},"axis":{"values":[-40,-20,0,20,40,60],"ticks":true,"tickSize":-4,"tickColor":"#444","labelPadding":11,"labelExpr":"datum.value + ''"}},
      "color":{"field":"c","type":"nominal","scale":{"domain":["B","M"],"range":["#ff0000","#0000ff"]},"legend":null},
      "size":{"field":"n","type":"quantitative","scale":{"domain":[1,40],"range":[4,80]},"legend":null}}},
    {"mark":{"type":"circle","opacity":0},
     "encoding":{
      "x":{"field":"x","type":"quantitative","title":null,"scale":{"domain":[-28.4,80.2],"nice":false,"zero":false},"axis":{"orient":"top","values":[-20,0,20,40,60],"labels":false,"ticks":true,"tickSize":-4,"tickColor":"#444"}},
      "y":{"field":"y","type":"quantitative","title":null,"scale":{"domain":[-55.6,64.4],"nice":false,"zero":false},"axis":{"orient":"right","values":[-40,-20,0,20,40,60],"labels":false,"ticks":true,"tickSize":-4,"tickColor":"#444"}}}}
   ],
   "resolve":{"axis":{"x":"independent","y":"independent"}}},
  {"width":262,"height":264,"title":{"text":"Tree embedding (ours)","font":"Liberation Serif","fontSize":33,"offset":-21,"baseline":"alphabetic"},
   "data":{"name":"tree"},
   "layer":[
    {"mark":{"type":"circle","opacity":1,"size":5},
     "encoding":{
      "x":{"field":"x","type":"quantitative","title":null,"scale":{"domain":[-28.4,80.2],"nice":false,"zero":false},"axis":{"values":[-20,0,20,40,60],"ticks":true,"tickSize":-4,"tickColor":"#444","labelPadding":8,"labelExpr":"datum.value + ''"}},
      "y":{"field":"y","type":"quantitative","title":null,"scale":{"domain":[-55.6,64.4],"nice":false,"zero":false},"axis":{"values":[-40,-20,0,20,40,60],"ticks":true,"tickSize":-4,"tickColor":"#444","labelPadding":11,"labelExpr":"datum.value + ''"}},
      "color":{"field":"c","type":"nominal","scale":{"domain":["B","M"],"range":["#ff0000","#0000ff"]},"legend":null}}},
    {"mark":{"type":"circle","opacity":0},
     "encoding":{
      "x":{"field":"x","type":"quantitative","title":null,"scale":{"domain":[-28.4,80.2],"nice":false,"zero":false},"axis":{"orient":"top","values":[-20,0,20,40,60],"labels":false,"ticks":true,"tickSize":-4,"tickColor":"#444"}},
      "y":{"field":"y","type":"quantitative","title":null,"scale":{"domain":[-55.6,64.4],"nice":false,"zero":false},"axis":{"orient":"right","values":[-40,-20,0,20,40,60],"labels":false,"ticks":true,"tickSize":-4,"tickColor":"#444"}}}}
   ],
   "resolve":{"axis":{"x":"independent","y":"independent"}}}
 ],"spacing":68,"bounds":"flush"}
],
"spacing":14
}
